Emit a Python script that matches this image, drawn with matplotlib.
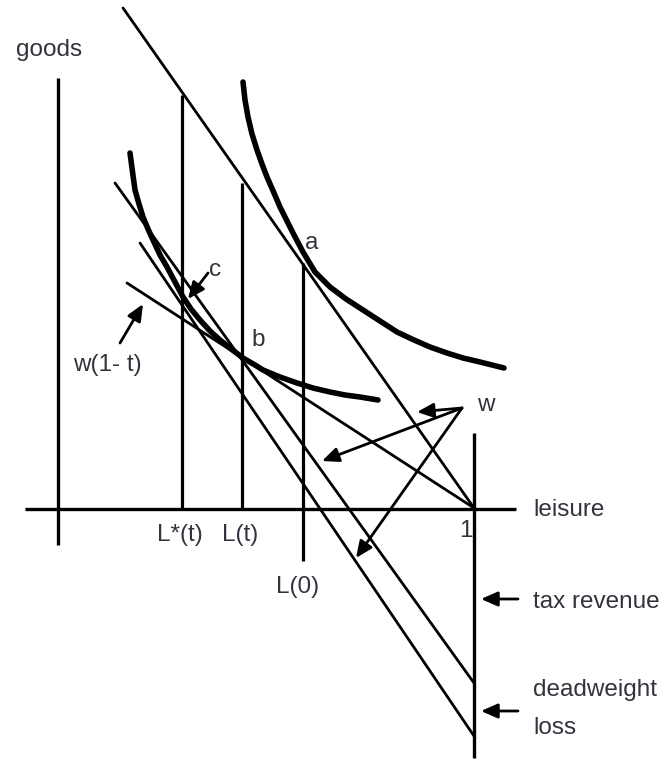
import matplotlib
matplotlib.use("Agg")
import matplotlib.pyplot as plt

# ---- data (pixel-space coordinates of the hand drawn diagram) ----
# axes
x_axis_x = [25, 516]; x_axis_y = [509, 509]
goods_axis_x = [58, 58]; goods_axis_y = [78, 545]
right_axis_x = [474, 474]; right_axis_y = [433, 758]

# vertical leisure markers: L*(t), L(t), L(0)
vert_x = [182, 242, 303]
vert_top = [95, 183, 263]
vert_bottom = [508, 508, 561]

# budget lines (start x, start y, end x, end y)
w_line = [123, 8, 474, 508]
wt_line = [127, 283, 474, 508]
par_b_line = [115, 183, 474, 683]
par_c_line = [140, 243, 474, 736]

# indifference curves
ic_high_x = [243, 245, 248, 252, 257, 262, 267, 274, 280, 287, 293, 303, 315, 330, 346, 363, 380, 397, 414, 430, 447, 463, 480, 492, 504]
ic_high_y = [82, 100, 117, 134, 150, 164, 177, 193, 207, 221, 233, 252, 272, 287, 299, 310, 321, 332, 340, 347, 353, 358, 362, 365, 368]
ic_low_x = [130, 132, 135, 139, 143, 148, 153, 160, 167, 175, 183, 191, 200, 210, 220, 230, 243, 255, 263, 280, 297, 313, 330, 345, 360, 378]
ic_low_y = [153, 168, 190, 204, 217, 229, 240, 255, 267, 282, 297, 309, 320, 331, 340, 348, 358, 365, 370, 377, 383, 388, 392, 395, 397, 400]

# arrows: (tail x, tail y, head x, head y)
arrows = [
    (208, 273, 188, 299),   # c
    (120, 343, 143, 304),   # w(1-t)
    (462, 408, 417, 412),   # w short
    (462, 408, 322, 461),   # w middle
    (462, 408, 356, 558),   # w long
    (518, 599, 481, 599),   # tax revenue
    (518, 711, 481, 711),   # deadweight loss
]

# labels: (text, x, y, ha, va)
labels = [
    ("goods", 16, 50, "left", "center"),
    ("leisure", 533, 510, "left", "center"),
    ("L*(t)", 157, 535, "left", "center"),
    ("L(t)", 222, 535, "left", "center"),
    ("L(0)", 276, 587, "left", "center"),
    ("1", 466, 531, "center", "center"),
    ("a", 312, 243, "center", "center"),
    ("b", 258, 340, "center", "center"),
    ("c", 215, 270, "center", "center"),
    ("w", 486, 405, "center", "center"),
    ("w(1- t)", 73, 365, "left", "center"),
    ("tax revenue", 533, 602, "left", "center"),
    ("deadweight", 533, 690, "left", "center"),
    ("loss", 533, 728, "left", "center"),
]

W, H = 667, 762
fig = plt.figure(figsize=(W / 100, H / 100), dpi=100)
ax = fig.add_axes([0, 0, 1, 1])
ax.set_xlim(0, W)
ax.set_ylim(H, 0)
ax.axis("off")

k = "black"
ax.plot(x_axis_x, x_axis_y, color=k, lw=2.4, solid_capstyle="butt")
ax.plot(goods_axis_x, goods_axis_y, color=k, lw=2.4, solid_capstyle="butt")
ax.plot(right_axis_x, right_axis_y, color=k, lw=2.4, solid_capstyle="butt")
for xv, yt, yb in zip(vert_x, vert_top, vert_bottom):
    ax.plot([xv, xv], [yt, yb], color=k, lw=2.3, solid_capstyle="butt")

for ln in (w_line, wt_line, par_b_line, par_c_line):
    ax.plot([ln[0], ln[2]], [ln[1], ln[3]], color=k, lw=2.0, solid_capstyle="round")

ax.plot(ic_high_x, ic_high_y, color=k, lw=4.0, solid_capstyle="round", solid_joinstyle="round")
ax.plot(ic_low_x, ic_low_y, color=k, lw=4.0, solid_capstyle="round", solid_joinstyle="round")

for (x0, y0, x1, y1) in arrows:
    ax.annotate("", xy=(x1, y1), xytext=(x0, y0),
                arrowprops=dict(arrowstyle="-|>,head_length=0.5,head_width=0.22",
                                color=k, lw=2.0, shrinkA=0, shrinkB=0,
                                mutation_scale=20))

tc = "#33333d"
for txt, x, y, ha, va in labels:
    ax.text(x, y, txt, ha=ha, va=va, fontsize=17.5, color=tc,
            family=["Liberation Sans", "DejaVu Sans"])

fig.savefig("out.png", dpi=100)
